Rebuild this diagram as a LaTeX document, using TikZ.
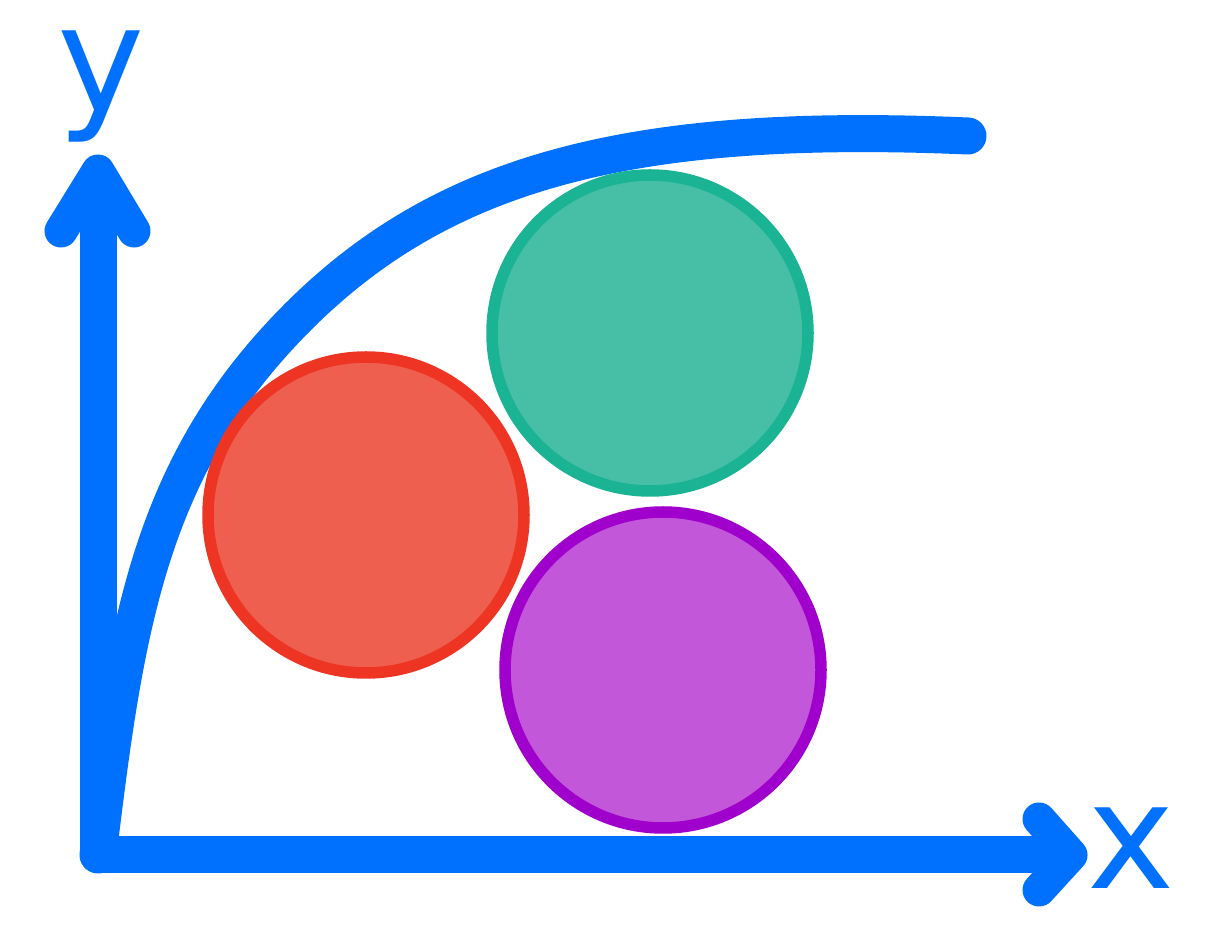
\documentclass[tikz,border=0pt]{standalone}
\usepackage{fontspec}
\newfontfamily\labelfont{DejaVu Sans}
\definecolor{axisblue}{HTML}{0070FF}
\definecolor{redfill}{HTML}{EF5F4F}
\definecolor{redline}{HTML}{EE3524}
\definecolor{greenfill}{HTML}{46BFA6}
\definecolor{greenline}{HTML}{1AB394}
\definecolor{purplefill}{HTML}{C257D9}
\definecolor{purpleline}{HTML}{A000CC}
\begin{document}
\begin{tikzpicture}[x=0.1mm,y=-0.1mm,
  axisline/.style={draw=axisblue, line width=3.7mm, line cap=round, line join=round},
  headline/.style={draw=axisblue, line width=3.3mm, line cap=round, line join=round},
  curveline/.style={draw=axisblue, line width=3.7mm, line cap=round},
  ball/.style={circle, inner sep=0pt, minimum size=31.6mm, line width=1.15mm},
  axislabel/.style={text=axisblue, font=\labelfont\fontsize{42}{46}\selectfont, inner sep=0pt}]
\useasboundingbox (0,0) rectangle (1220,927);
\coordinate (O) at (98,855);
\coordinate (yend) at (98,200);
\coordinate (ytip) at (98,171);
\coordinate (yl) at (61,231);
\coordinate (yr) at (134,231);
\coordinate (xend) at (1045,855);
\coordinate (xtip) at (1071,855);
\coordinate (xu) at (1039,819);
\coordinate (xd) at (1039,890);
\coordinate (cmid) at (276,340);
\coordinate (cend) at (968,136);
% axes
\draw[axisline] (yend) -- (O) -- (xend);
\draw[headline] (yl) -- (ytip) -- (yr);
\draw[headline] (xu) -- (xtip) -- (xd);
% curve
\draw[curveline] (O) .. controls (124,640) and (146,483) .. (cmid)
  .. controls (426,175) and (618,121) .. (cend);
% circles
\node[ball, draw=redline, fill=redfill] (red) at (366,515) {};
\node[ball, draw=greenline, fill=greenfill] (green) at (650,333) {};
\node[ball, draw=purpleline, fill=purplefill] (purple) at (663,670) {};
% labels
\node[axislabel, anchor=base] (ylab) at (101,112) {y};
\node[axislabel, anchor=base] (xlab) at (1131,889) {x};
\end{tikzpicture}
\end{document}
